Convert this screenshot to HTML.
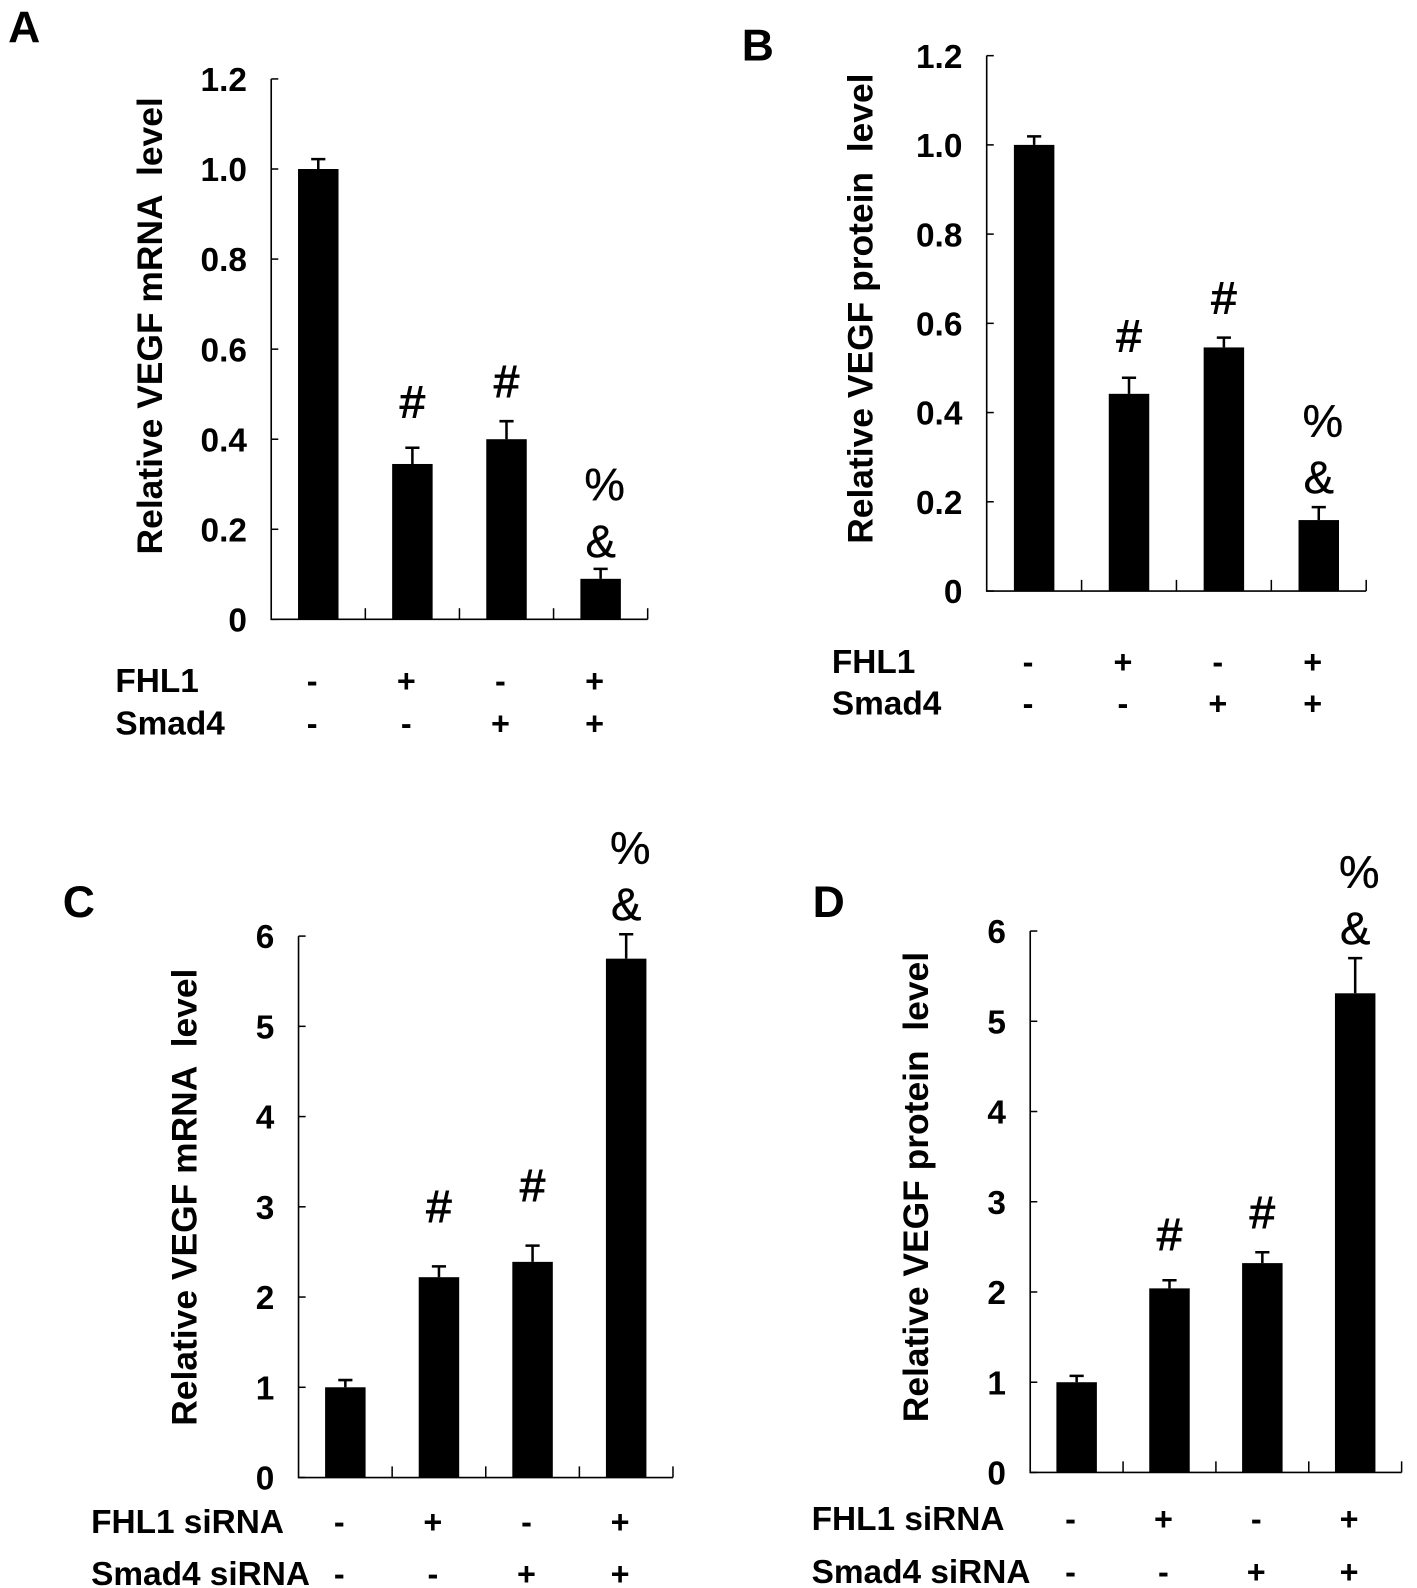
<!DOCTYPE html>
<html><head><meta charset="utf-8"><style>
html,body{margin:0;padding:0;background:#fff;}
svg{display:block;font-family:"Liberation Sans",Arial,sans-serif;}
text{white-space:pre;}
</style></head><body>
<svg id="fig" width="1417" height="1588" viewBox="0 0 1417 1588" xmlns="http://www.w3.org/2000/svg"><g id="root" transform="scale(1.012)"></g></svg>
<script>
// ---- data ----
const categories = ["ctrl", "fhl1", "smad4", "fhl1+smad4"];
const valuesA = [1.0, 0.345, 0.40, 0.09];
const errorsA = [0.022, 0.036, 0.04, 0.022];
const valuesB = [1.0, 0.442, 0.546, 0.159];
const errorsB = [0.019, 0.036, 0.022, 0.029];
const valuesC = [1.0, 2.22, 2.39, 5.75];
const errorsC = [0.08, 0.12, 0.18, 0.27];
const valuesD = [1.0, 2.04, 2.32, 5.31];
const errorsD = [0.07, 0.09, 0.12, 0.39];
const ticksAB = ["0", "0.2", "0.4", "0.6", "0.8", "1.0", "1.2"];
const tickValsAB = [0, 0.2, 0.4, 0.6, 0.8, 1.0, 1.2];
const ticksCD = ["0", "1", "2", "3", "4", "5", "6"];
const tickValsCD = [0, 1, 2, 3, 4, 5, 6];
const row1Signs = ["-", "+", "-", "+"];
const row2Signs = ["-", "-", "+", "+"];
const marksAB = [[], ["#"], ["#"], ["%", "&"]];
const marksCD = [[], ["#"], ["#"], ["%", "&"]];

const NS = "http://www.w3.org/2000/svg";
const svg = document.getElementById("root");
function mk(tag, attrs, parent, text) {
  const e = document.createElementNS(NS, tag);
  for (const k in attrs) e.setAttribute(k, attrs[k]);
  if (text !== undefined) e.textContent = text;
  (parent || svg).appendChild(e);
  return e;
}

function panel(p) {
  const g = mk("g", {});
  
  
  const yMax = p.tickVals[p.tickVals.length - 1];
  const y = v => p.y0 - (v / yMax) * (p.y0 - p.yTop);
  const bandW = (p.xR - p.x0) / categories.length;
  const xc = i => p.x0 + bandW * (i + 0.5);

  const t = mk("text", {x: p.titleX, y: p.titleY, "font-size": 44, "font-weight": "bold"}, g, p.id);
  
  

  const yl = mk("text", {x: 0, y: 0, "font-size": 35, "font-weight": "bold", "text-anchor": "middle",
    transform: `translate(${p.ylX},${p.ylY}) rotate(-90)`}, g, p.ylabel);
  
  

  const ax = mk("path", {d: `M${p.x0},${p.yTop}V${p.y0}H${p.xR}`, stroke: "#000", "stroke-width": 1.6, fill: "none"}, g);
  
  

  p.tickVals.forEach((v, i) => {
    const tk = mk("line", {x1: p.x0, x2: p.x0 + 7, y1: y(v), y2: y(v), stroke: "#000", "stroke-width": 1.5}, g);
    
    
    const tl = mk("text", {x: p.x0 - 24, y: y(v) + 12, "font-size": 33, "font-weight": "bold", "text-anchor": "end"}, g, p.ticks[i]);
    
    
  });
  for (let i = 1; i <= categories.length; i++) {
    const xt = p.x0 + bandW * i;
    const ct = mk("line", {x1: xt, x2: xt, y1: p.y0, y2: p.y0 - 11, stroke: "#000", "stroke-width": 1.5}, g);
    
    
  }
  p.values.forEach((v, i) => {
    const bw = 40;
    const b = mk("rect", {x: xc(i) - bw / 2, y: y(v), width: bw, height: p.y0 - y(v), fill: "#000"}, g);
    
    
    const top = y(v + p.errors[i]);
    const e = mk("path", {d: `M${xc(i)},${y(v)}V${top}M${xc(i) - 7},${top}H${xc(i) + 7}`, stroke: "#000", "stroke-width": 2.5, fill: "none"}, g);
    
    
    const m = p.marks[i];
    m.forEach((s, k) => {
      const gap = p.markGap[i] + (m.length - 1 - k) * 56;
      const a = mk("text", {x: xc(i) + (s === "%" ? 4 : 0), y: top - gap, "font-size": 45, "text-anchor": "middle",
        stroke: "#000", "stroke-width": s === "#" ? 1 : 0.4}, g, s);
      
      
    });
  });
  [[p.row1Label, row1Signs, p.row1Y], [p.row2Label, row2Signs, p.row2Y]].forEach(([lab, signs, ry]) => {
    const rl = mk("text", {x: p.rowX, y: ry, "font-size": 33, "font-weight": "bold"}, g, lab);
    
    
    signs.forEach((s, i) => {
      const st = mk("text", {x: xc(i) - 6 + p.signDx, y: ry, "font-size": 32, "font-weight": "bold", "text-anchor": "middle"}, g, s);
      
      
    });
  });
}

panel({id: "A", values: valuesA, errors: errorsA, ticks: ticksAB, tickVals: tickValsAB, marks: marksAB,
  markGap: [0, 30, 24, 12], x0: 268, xR: 640, y0: 612, yTop: 78,
  titleX: 8, titleY: 42, ylabel: "Relative VEGF mRNA  level", ylX: 160, ylY: 322,
  row1Label: "FHL1", row2Label: "Smad4", rowX: 114, row1Y: 684, row2Y: 726, signDx: 0});
panel({id: "B", values: valuesB, errors: errorsB, ticks: ticksAB, tickVals: tickValsAB, marks: marksAB,
  markGap: [0, 26, 24, 14], x0: 975, xR: 1350, y0: 584, yTop: 55,
  titleX: 733, titleY: 60, ylabel: "Relative VEGF protein  level", ylX: 862, ylY: 305,
  row1Label: "FHL1", row2Label: "Smad4", rowX: 822, row1Y: 665, row2Y: 706, signDx: 0});
panel({id: "C", values: valuesC, errors: errorsC, ticks: ticksCD, tickVals: tickValsCD, marks: marksCD,
  markGap: [0, 44, 44, 14], x0: 295, xR: 665, y0: 1460, yTop: 925,
  titleX: 62, titleY: 906, ylabel: "Relative VEGF mRNA  level", ylX: 194, ylY: 1183,
  row1Label: "FHL1 siRNA", row2Label: "Smad4 siRNA", rowX: 90, row1Y: 1515, row2Y: 1566, signDx: 0});
panel({id: "D", values: valuesD, errors: errorsD, ticks: ticksCD, tickVals: tickValsCD, marks: marksCD,
  markGap: [0, 30, 24, 14], x0: 1018, xR: 1385, y0: 1455, yTop: 920,
  titleX: 803, titleY: 906, ylabel: "Relative VEGF protein  level", ylX: 917, ylY: 1173,
  row1Label: "FHL1 siRNA", row2Label: "Smad4 siRNA", rowX: 802, row1Y: 1512, row2Y: 1564, signDx: 0});
</script>
</body></html>
